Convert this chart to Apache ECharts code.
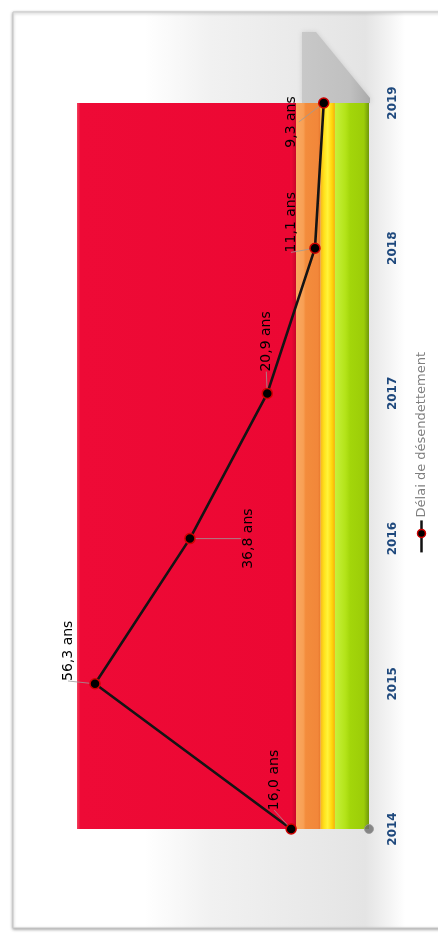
<!DOCTYPE html>
<html>
<head>
<meta charset="utf-8">
<script src="https://cdn.jsdelivr.net/npm/echarts@6/dist/echarts.min.js"></script>
<style>
html,body{margin:0;padding:0;background:#fff;}
#chart{width:438px;height:933px;}
</style>
</head>
<body>
<div id="chart"></div>
<script>
// ---- data ----
var years = ['2014', '2015', '2016', '2017', '2018', '2019'];
var delai = [16.0, 56.3, 36.8, 20.9, 11.1, 9.3];
var seriesName = 'Délai de désendettement';
var bandLimits = [0, 7, 10, 15, 60]; // green, yellow, orange, red zones
var baseline = [0]; // grey marker at 2014

// ---- layout (label displacement on screen in px [right, down], not data) ----
var labelShift = [[-17, -49], [-27, -33], [58, 0], [-1, -52], [-24, -26], [-32, 19]];

var G = echarts.graphic;
function hGrad(stops) {
  return new G.LinearGradient(0, 0, 1, 0, stops.map(function (s) { return { offset: s[0], color: s[1] }; }));
}
// screen left = higher value (axis inverted)
var bandStyles = [
  hGrad([[0, '#c6f03c'], [0.3, '#b4e41a'], [0.45, '#a3d60a'], [0.85, '#9ccd08'], [1, '#6f980a']]),   // green 0-7
  hGrad([[0, '#f7b41c'], [0.25, '#ffe11a'], [0.5, '#fff33a'], [0.8, '#ffd50a'], [1, '#f3b00c']]),   // yellow 7-10
  hGrad([[0, '#f9a860'], [0.3, '#f8a055'], [0.4, '#f38c3c'], [0.9, '#f2873a'], [1, '#e8782e']]),   // orange 10-15
  hGrad([[0, '#f2415e'], [0.015, '#ee0a36'], [0.98, '#ec0733'], [1, '#c8062a']])                      // red 15-60
];
var bandData = [];
for (var i = 0; i < bandLimits.length - 1; i++) {
  bandData.push([{ xAxis: bandLimits[i], itemStyle: { color: bandStyles[i] } }, { xAxis: bandLimits[i + 1] }]);
}

var lineData = years.map(function (y, i) { return [delai[i], y]; });

var chart = echarts.init(document.getElementById('chart'), null, { renderer: 'canvas' });
var option = {
  animation: false,
  backgroundColor: '#ffffff',
  textStyle: { fontFamily: 'DejaVu Sans' },
  graphic: [
    {
      type: 'rect', z: -10, silent: true,
      shape: { x: 13, y: 12, width: 440, height: 916 },
      style: {
        fill: new G.LinearGradient(0, 0, 1, 0, [
          { offset: 0, color: '#ffffff' }, { offset: 0.3, color: '#ffffff' },
          { offset: 0.45, color: '#f1f1f1' }, { offset: 0.7, color: '#e8e8e8' },
          { offset: 0.8, color: '#e4e4e4' }, { offset: 0.855, color: '#f4f4f4' },
          { offset: 0.89, color: '#ffffff' }, { offset: 1, color: '#ffffff' }
        ]),
        stroke: '#c8c8c8', lineWidth: 1,
        shadowBlur: 3, shadowColor: 'rgba(0,0,0,0.35)', shadowOffsetY: 1
      }
    },
    {
      type: 'polygon', z: -5, silent: true,
      shape: { points: [[302, 32], [316, 32], [370, 98], [370, 103], [302, 103]] },
      style: {
        fill: new G.LinearGradient(0, 0, 1, 0, [
          { offset: 0, color: '#c8c8c8' }, { offset: 0.7, color: '#c0c0c0' }, { offset: 1, color: '#aaaaaa' }
        ]),
        shadowBlur: 5, shadowColor: 'rgba(0,0,0,0.12)'
      }
    },
    {
      type: 'group', left: 415, top: 352,
      children: [
        { type: 'text', x: 7, y: 186, rotation: Math.PI / 2,
          style: { text: seriesName, fill: '#7f7f7f', font: '13px "DejaVu Sans"', textAlign: 'left', textVerticalAlign: 'middle' } },
        { type: 'line', shape: { x1: 7, y1: 189, x2: 7, y2: 221 }, style: { stroke: '#111', lineWidth: 2.5 } },
        { type: 'circle', shape: { cx: 7, cy: 202, r: 4 }, style: { fill: '#000', stroke: '#d00000', lineWidth: 1.5 } }
      ]
    }
  ],
  grid: { left: 77, right: 69, top: 103, bottom: 104, containLabel: false },
  xAxis: {
    type: 'value', inverse: true, min: 0, max: 60, show: false,
    splitLine: { show: false }
  },
  yAxis: {
    type: 'category', data: years, boundaryGap: false, position: 'right',
    axisLine: { show: false }, axisTick: { show: false }, splitLine: { show: false },
    axisLabel: { rotate: 90, margin: 18, color: '#1f497d', fontWeight: 'bold', fontSize: 12, fontFamily: 'DejaVu Sans' }
  },
  series: [
    {
      name: seriesName, type: 'line', data: lineData, z: 5,
      lineStyle: { color: '#141414', width: 2.6 },
      symbol: 'circle', symbolSize: 10,
      itemStyle: { color: '#000000', borderColor: '#d00000', borderWidth: 1.5 },
      label: {
        show: true, position: 'inside', rotate: 90,
        color: '#000', fontSize: 14, fontFamily: 'DejaVu Sans',
        formatter: function (p) { return p.value[0].toFixed(1).replace('.', ',') + ' ans'; }
      },
      // label is rotated 90°, so its local frame is turned: map screen shift to local dx/dy
      labelLayout: function (p) { var s = labelShift[p.dataIndex]; return { dx: -s[1], dy: s[0] }; },
      labelLine: { show: true, lineStyle: { color: '#9a9a9a', width: 0.8 } },
      markArea: { silent: true, z: 1, data: bandData }
    },
    {
      name: 'base', type: 'scatter', z: 4,
      data: baseline.map(function (v) { return [v, years[0]]; }),
      symbol: 'circle', symbolSize: 9,
      itemStyle: { color: '#6d6d6d', borderColor: '#9a9a9a', borderWidth: 1 }
    }
  ]
};
chart.setOption(option);
</script>
</body>
</html>
